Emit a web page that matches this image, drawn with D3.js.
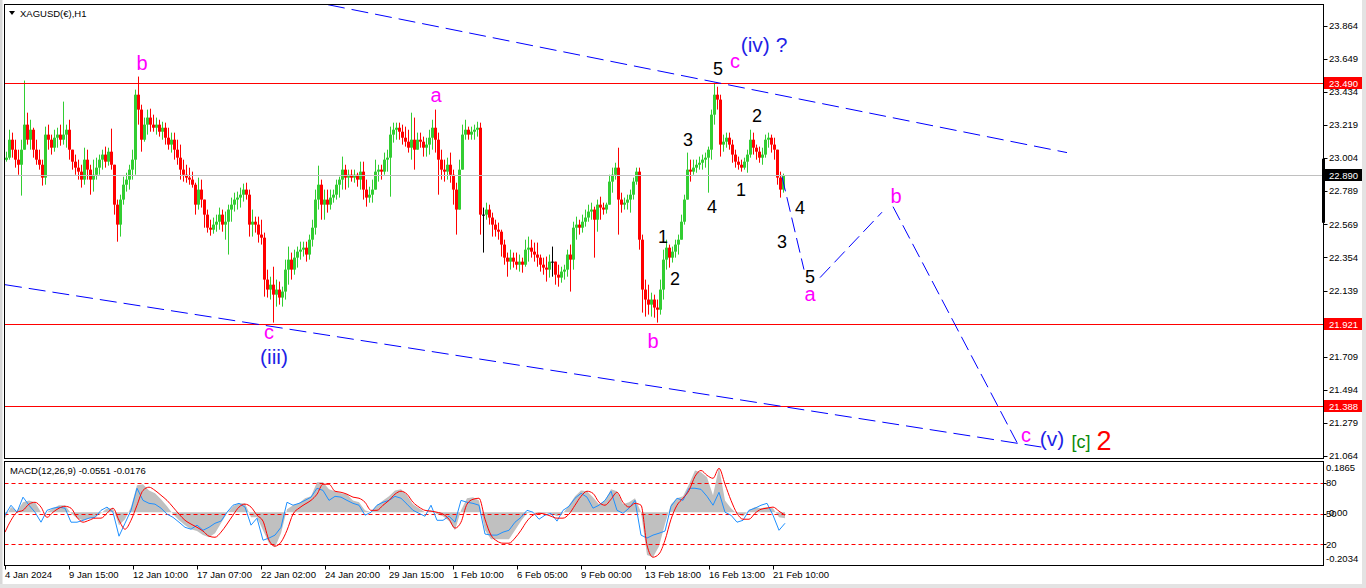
<!DOCTYPE html>
<html><head><meta charset="utf-8">
<script src="https://cdn.jsdelivr.net/npm/d3@7/dist/d3.min.js"></script>
<style>
body{margin:0;background:#fff}
svg{display:block}
text{font-family:"Liberation Sans",Arial,sans-serif}
</style>
</head><body>
<svg id="c" width="1366" height="588"></svg>
<script>
// ---------------- DATA ----------------
const symbolTitle = "XAGUSD(€),H1";
const hoursPerCandle = 3;           // each drawn candle aggregates 3 H1 bars
const firstOpen = 22.99;
const highs = [
23.043,23.186,23.167,23.121,23.056,23.121,23.506,23.297,23.251,23.199,
23.121,23.056,22.991,23.206,23.219,23.154,23.186,23.199,23.219,23.369,
23.219,23.251,23.056,23.024,22.991,22.958,23.069,23.056,22.958,22.991,
23.004,23.024,23.056,23.076,23.069,23.193,22.958,22.731,22.763,22.880,
22.906,22.958,23.056,23.447,23.532,23.349,23.265,23.317,23.323,23.284,
23.265,23.251,23.238,23.232,23.199,23.167,23.167,23.121,23.089,22.991,
22.958,22.939,22.913,22.841,22.874,22.861,22.731,22.666,22.600,22.614,
22.633,22.679,22.666,22.653,22.698,22.744,22.776,22.783,22.809,22.835,
22.841,22.796,22.666,22.620,22.620,22.600,22.516,22.275,22.229,22.294,
22.210,22.197,22.164,22.340,22.425,22.386,22.405,22.425,22.457,22.457,
22.457,22.503,22.600,22.796,22.952,22.861,22.796,22.796,22.796,22.796,
22.861,22.880,23.011,22.958,22.926,22.926,22.926,22.906,22.978,22.978,
22.861,22.815,22.861,22.991,22.958,22.958,23.037,23.056,23.206,23.232,
23.232,23.232,23.219,23.206,23.186,23.297,23.265,23.167,23.167,23.141,
23.134,23.186,23.251,23.317,23.167,23.056,22.991,23.004,23.037,22.926,
22.841,22.991,23.219,23.251,23.206,23.206,23.219,23.238,23.232,22.679,
22.711,22.698,22.646,22.600,22.581,22.535,22.470,22.386,22.405,22.386,
22.386,22.373,22.353,22.470,22.490,22.470,22.451,22.451,22.373,22.353,
22.360,22.373,22.425,22.327,22.307,22.294,22.307,22.405,22.438,22.587,
22.620,22.600,22.633,22.666,22.698,22.711,22.685,22.731,22.750,22.711,
22.711,22.893,22.939,22.971,23.069,22.776,22.744,22.763,22.796,22.874,
22.939,22.939,22.503,22.210,22.177,22.125,22.112,22.080,22.210,22.405,
22.470,22.438,22.425,22.470,22.503,22.633,22.763,23.037,22.991,22.991,
22.991,23.011,23.024,23.037,23.076,23.317,23.492,23.466,23.414,23.154,
23.167,23.167,23.121,23.056,23.011,22.991,23.004,23.056,23.186,23.167,
23.089,23.076,23.069,23.154,23.167,23.154,23.134,23.056,22.913,22.900];
const lows = [
22.978,22.991,23.004,22.939,22.893,22.757,23.056,23.089,23.056,23.004,
22.958,22.926,22.822,22.828,23.056,23.024,23.043,23.069,23.082,23.089,
23.069,22.991,22.926,22.893,22.861,22.809,22.828,22.861,22.763,22.783,
22.861,22.893,22.926,22.939,22.952,22.926,22.633,22.457,22.490,22.698,
22.783,22.796,22.861,22.893,23.219,23.043,23.108,23.154,23.173,23.173,
23.154,23.141,23.121,23.089,23.056,23.037,22.991,22.958,22.861,22.848,
22.841,22.828,22.809,22.633,22.666,22.679,22.548,22.516,22.496,22.509,
22.522,22.535,22.522,22.470,22.373,22.587,22.653,22.666,22.679,22.718,
22.731,22.490,22.490,22.516,22.451,22.438,22.099,22.093,22.080,21.930,
22.034,22.047,22.034,22.080,22.177,22.210,22.242,22.288,22.340,22.360,
22.327,22.340,22.425,22.503,22.666,22.600,22.600,22.646,22.666,22.711,
22.731,22.744,22.796,22.796,22.809,22.848,22.841,22.815,22.796,22.731,
22.685,22.711,22.711,22.796,22.848,22.861,22.893,22.913,22.750,23.102,
23.121,23.121,23.089,23.076,23.037,22.991,22.926,23.056,23.069,23.011,
23.011,23.024,23.056,23.037,22.763,22.861,22.848,22.861,22.841,22.698,
22.503,22.685,22.958,23.121,23.121,23.121,23.121,23.141,22.503,22.386,
22.600,22.568,22.490,22.490,22.470,22.360,22.307,22.229,22.275,22.288,
22.275,22.262,22.255,22.294,22.327,22.353,22.327,22.294,22.262,22.242,
22.197,22.223,22.229,22.177,22.164,22.190,22.210,22.229,22.132,22.275,
22.470,22.503,22.516,22.555,22.587,22.600,22.353,22.522,22.600,22.633,
22.640,22.698,22.776,22.861,22.503,22.646,22.666,22.666,22.646,22.731,
22.828,22.405,21.995,21.969,21.982,21.969,21.962,21.930,21.982,22.080,
22.275,22.288,22.321,22.353,22.373,22.470,22.568,22.731,22.848,22.893,
22.906,22.926,22.926,22.939,22.776,22.991,23.219,23.317,23.011,23.043,
23.069,23.056,22.971,22.939,22.926,22.913,22.926,22.906,23.004,23.024,
22.991,22.971,22.958,23.004,23.069,23.037,22.991,22.828,22.744,22.776];
const closes = [
23.004,23.121,23.056,22.991,22.958,23.056,23.219,23.121,23.186,23.056,
22.991,22.958,22.874,23.154,23.121,23.069,23.134,23.154,23.121,23.154,
23.186,23.056,22.978,22.939,22.913,22.861,22.991,22.926,22.861,22.893,
22.939,22.991,23.024,22.978,23.043,22.958,22.698,22.568,22.731,22.828,
22.861,22.926,22.991,23.414,23.317,23.121,23.219,23.265,23.219,23.199,
23.219,23.173,23.199,23.134,23.089,23.121,23.056,23.004,22.926,22.893,
22.874,22.861,22.828,22.698,22.796,22.731,22.633,22.548,22.535,22.568,
22.587,22.633,22.568,22.587,22.666,22.698,22.731,22.744,22.763,22.796,
22.763,22.568,22.587,22.568,22.503,22.483,22.210,22.145,22.177,22.112,
22.145,22.093,22.132,22.275,22.340,22.275,22.353,22.392,22.405,22.418,
22.373,22.470,22.548,22.731,22.828,22.698,22.731,22.698,22.744,22.763,
22.828,22.861,22.926,22.874,22.893,22.874,22.893,22.861,22.913,22.796,
22.744,22.763,22.796,22.913,22.926,22.913,22.991,23.004,23.154,23.186,
23.199,23.173,23.134,23.108,23.069,23.121,23.056,23.121,23.108,23.069,
23.089,23.134,23.199,23.121,22.991,22.926,22.913,22.958,22.893,22.796,
22.666,22.926,23.154,23.186,23.154,23.173,23.186,23.199,22.633,22.633,
22.666,22.614,22.568,22.535,22.522,22.438,22.353,22.327,22.353,22.327,
22.307,22.327,22.307,22.405,22.418,22.392,22.373,22.353,22.307,22.288,
22.275,22.327,22.327,22.242,22.223,22.262,22.275,22.373,22.340,22.548,
22.568,22.548,22.587,22.614,22.653,22.666,22.600,22.698,22.679,22.666,
22.698,22.848,22.893,22.939,22.731,22.698,22.711,22.731,22.763,22.848,
22.913,22.470,22.145,22.080,22.047,22.080,22.028,22.014,22.145,22.340,
22.418,22.353,22.392,22.438,22.470,22.587,22.731,22.926,22.913,22.939,
22.958,22.971,22.991,23.004,23.056,23.284,23.414,23.382,23.089,23.108,
23.134,23.089,23.024,22.978,22.958,22.939,22.978,23.024,23.121,23.069,
23.043,23.004,23.024,23.121,23.134,23.089,23.056,22.874,22.796,22.890];

const priceTicks = [23.864,23.649,23.434,23.219,23.004,22.789,22.569,22.354,22.139,21.924,21.709,21.494,21.279,21.064];
const timeLabels = ["4 Jan 2024","9 Jan 15:00","12 Jan 10:00","17 Jan 07:00","22 Jan 02:00","24 Jan 20:00","29 Jan 15:00","1 Feb 10:00","6 Feb 05:00","9 Feb 00:00","13 Feb 18:00","16 Feb 13:00","21 Feb 10:00"];
const timeLabelHours = [0,64,128,192,256,320,384,448,512,576,640,704,768];

const redLevels = [23.490, 21.921, 21.388];
const currentPrice = 22.890;
const spreadBar = [22.997, 22.580];

// trend channel (hour, price)
const channelUpper = [[323, 24.000], [1062, 23.037]];
const channelLower = [[0, 22.177], [1040, 21.116]];
// projected path (hour, price)
const projection = [
  [[777, 22.880], [799, 22.275]],
  [[815, 22.223], [877, 22.649]],
  [[888, 22.685], [1012, 21.149]]
];

// Elliott wave labels
const waveText   = ["b","a","5","c","(iv) ?","3","2","1","4","4","3","1","2","5","a","b","b","c","(iii)","c","(v)","[c]","2"];
const waveHour   = [137,431,713,730,759,683,752,736,707,795,777,658,670,805,805,891,648,264,269,1021,1047,1076,1099];
const wavePrice  = [23.577,23.369,23.545,23.585,23.690,23.082,23.238,22.757,22.646,22.640,22.418,22.451,22.178,22.185,22.070,22.711,21.767,21.826,21.663,21.155,21.129,21.116,21.103];
const waveDegree = ["minuette","minuette","sub","minuette","minute","sub","sub","sub","sub","sub","sub","sub","sub","sub","minuette","minuette","minuette","minuette","minute","minuette","minute","minor","intermediate"];

// MACD panel (one value every 6 hours)
const macdTitle = "MACD(12,26,9) -0.0551 -0.0176";
const macdStepHours = 6;
const macdHist = [
-0.022,0.019,0.004,0.037,0.044,0.037,0.000,0.000,0.015,0.026,
0.026,-0.004,-0.022,-0.030,-0.022,-0.019,-0.004,0.015,0.015,-0.048,
-0.026,0.019,0.100,0.104,0.081,0.070,0.048,0.022,-0.007,-0.030,
-0.048,-0.063,-0.070,-0.085,-0.093,-0.078,-0.041,-0.004,0.022,0.033,
0.033,-0.019,-0.019,-0.067,-0.115,-0.130,-0.078,0.011,0.026,0.033,
0.052,0.059,0.111,0.111,0.085,0.078,0.070,0.067,0.044,0.037,
0.007,0.000,0.026,0.044,0.059,0.081,0.085,0.063,0.030,0.015,
0.000,0.007,-0.007,-0.015,-0.033,-0.067,0.007,0.052,0.056,0.044,
-0.067,-0.100,-0.100,-0.100,-0.100,-0.067,-0.033,-0.004,0.000,-0.004,
-0.004,-0.004,-0.015,-0.004,0.026,0.059,0.081,0.078,0.056,0.030,
0.044,0.085,0.078,0.030,0.037,0.052,0.000,-0.159,-0.167,-0.126,
-0.044,0.030,0.052,0.059,0.104,0.155,0.148,0.130,0.063,0.167,
0.044,0.015,-0.007,-0.015,0.007,0.019,0.015,0.019,0.015,-0.019,
-0.022];
const macdFast = [
-0.011,0.026,0.000,0.056,0.026,0.000,-0.037,0.007,0.015,0.019,
0.015,-0.037,-0.037,-0.030,-0.022,-0.019,0.007,0.019,0.000,-0.089,
-0.041,0.007,0.089,0.044,0.033,0.030,0.015,-0.007,-0.019,-0.037,
-0.056,-0.063,-0.048,-0.067,-0.056,-0.041,-0.033,0.000,0.026,0.033,
0.019,-0.048,-0.022,-0.104,-0.096,-0.085,-0.056,0.037,0.026,0.033,
0.044,0.056,0.089,0.081,0.044,0.059,0.056,0.044,0.033,0.026,
-0.011,0.000,0.026,0.037,0.044,0.059,0.052,0.030,0.007,-0.004,
-0.015,0.026,-0.030,-0.030,-0.015,-0.037,0.044,0.037,0.033,0.026,
-0.081,-0.085,-0.085,-0.074,-0.067,-0.037,-0.019,0.007,0.000,-0.026,
-0.011,-0.004,-0.033,0.007,0.022,0.052,0.070,0.056,0.015,0.026,
0.044,0.078,0.007,-0.004,0.015,0.044,-0.085,-0.096,-0.085,-0.078,
-0.070,0.022,0.052,0.044,0.089,0.089,0.085,0.059,0.026,0.074,
0.000,-0.011,-0.037,-0.030,0.007,0.015,0.026,0.033,-0.011,-0.067,
-0.041];
const macdSignal = [
-0.074,-0.030,0.000,0.007,0.030,0.037,0.019,-0.019,0.000,0.015,
0.022,0.015,-0.019,-0.037,-0.030,-0.022,-0.022,-0.004,0.015,-0.030,
-0.063,-0.030,0.026,0.081,0.093,0.081,0.063,0.044,0.019,-0.007,
-0.030,-0.044,-0.056,-0.070,-0.089,-0.093,-0.074,-0.044,-0.011,0.019,
0.030,0.019,-0.011,-0.033,-0.104,-0.126,-0.111,-0.067,-0.007,0.015,
0.030,0.044,0.067,0.104,0.104,0.078,0.074,0.067,0.056,0.052,
0.037,0.007,0.007,0.026,0.044,0.067,0.078,0.067,0.037,0.019,
0.007,0.004,0.000,-0.007,-0.026,-0.059,-0.037,0.030,0.048,0.052,
-0.026,-0.085,-0.107,-0.115,-0.115,-0.096,-0.067,-0.033,-0.011,-0.004,
-0.007,-0.015,-0.022,-0.022,-0.007,0.026,0.059,0.078,0.070,0.037,
0.026,0.048,0.074,0.037,0.019,0.033,0.026,-0.122,-0.167,-0.155,
-0.104,-0.026,0.026,0.052,0.081,0.133,0.155,0.137,0.126,0.163,
0.104,0.044,-0.004,-0.026,-0.026,-0.004,0.011,0.015,0.019,0.004,
-0.011];
const macdLevels = [80, 50, 20];
const macdScaleLabels = ["0.1865","80","50","0.00","20","-0.2034"];
const macdScaleValues = [0.1865, null, null, 0, null, -0.2034];
const macdScaleLevelValues = [null, 80, 50, null, 20, null];

// ---------------- LAYOUT ----------------
const svg = d3.select("#c");
const L = 4.5, R = 1323.5, T = 4.5, B = 458.5, MT = 461.5, MB = 565.5;
const UP = "#32cd32", DOWN = "#ff0000";
const degreeStyle = {
  sub:{fill:"#000", size:18},
  minuette:{fill:"#ff00ff", size:20},
  minute:{fill:"#1f1fe6", size:21},
  minor:{fill:"#0a8a0a", size:18},
  intermediate:{fill:"#ff0000", size:27}
};

const x = d3.scaleLinear().domain([0, 1318]).range([5, 1323]);
const y = d3.scaleLinear().domain([21.064, 23.864]).range([455.6, 25.6]);
const m = d3.scaleLinear().domain([-0.2034, 0.1865]).range([567, 462]);
const lv = d3.scaleLinear().domain([0, 100]).range([565, 462]);

// background & window edges
svg.append("rect").attr("width",1366).attr("height",588).attr("fill","#fff");
svg.append("rect").attr("x",0).attr("y",0).attr("width",2.5).attr("height",588).attr("fill","#d8d8d8");
svg.append("rect").attr("x",1362).attr("y",0).attr("width",4).attr("height",588).attr("fill","#e3e3e3");
svg.append("rect").attr("x",0).attr("y",584).attr("width",1366).attr("height",4).attr("fill","#e3e3e3");

const defs = svg.append("defs");
defs.append("clipPath").attr("id","mainClip").append("rect").attr("x",L+0.5).attr("y",T+0.5).attr("width",R-L-1).attr("height",B-T-1);
defs.append("clipPath").attr("id","macdClip").append("rect").attr("x",L+0.5).attr("y",MT+0.5).attr("width",R-L-1).attr("height",MB-MT-1);

const main = svg.append("g").attr("clip-path","url(#mainClip)");

// candles
const candles = closes.map((c,i)=>{
  const o = i===0 ? firstOpen : closes[i-1];
  return {h:i*hoursPerCandle, o, c, hi:Math.max(highs[i],o,c), lo:Math.min(lows[i],o,c)};
});
const cg = main.append("g");
cg.selectAll("line.w").data(candles).join("line").attr("class","w")
  .attr("x1",d=>x(d.h)+1.5).attr("x2",d=>x(d.h)+1.5)
  .attr("y1",d=>y(d.hi)).attr("y2",d=>y(d.lo))
  .attr("stroke",d=>d.c>d.o?UP:(d.c<d.o?DOWN:"#000")).attr("stroke-width",1);
cg.selectAll("rect.b").data(candles).join("rect").attr("class","b")
  .attr("x",d=>x(d.h)).attr("width",3)
  .attr("y",d=>y(Math.max(d.o,d.c)))
  .attr("height",d=>Math.max(1, Math.abs(y(d.o)-y(d.c))))
  .attr("fill",d=>d.c>d.o?UP:(d.c<d.o?DOWN:"#000"));

// horizontal levels
main.append("line").attr("x1",L).attr("x2",R).attr("y1",Math.round(y(currentPrice))+0.5).attr("y2",Math.round(y(currentPrice))+0.5)
  .attr("stroke","#c0c0c0").attr("stroke-width",1);
main.selectAll("line.lvl").data(redLevels).join("line").attr("class","lvl")
  .attr("x1",L).attr("x2",R).attr("y1",d=>Math.round(y(d))+0.5).attr("y2",d=>Math.round(y(d))+0.5)
  .attr("stroke","#ff0000").attr("stroke-width",1);

// channel + projection
const ln = d3.line().x(d=>x(d[0])).y(d=>y(d[1]));
[channelUpper, channelLower].forEach(seg=>{
  main.append("path").attr("d",ln(seg)).attr("fill","none").attr("stroke","#0000ff")
    .attr("stroke-width",1).attr("stroke-dasharray","17,7");
});
projection.forEach(seg=>{
  main.append("path").attr("d",ln(seg)).attr("fill","none").attr("stroke","#0000ff")
    .attr("stroke-width",1).attr("stroke-dasharray","15,6");
});

// wave labels
main.selectAll("text.wave").data(waveText).join("text").attr("class","wave")
  .attr("x",(d,i)=>x(waveHour[i])).attr("y",(d,i)=>y(wavePrice[i]))
  .attr("text-anchor","middle")
  .attr("font-size",(d,i)=>degreeStyle[waveDegree[i]].size)
  .attr("fill",(d,i)=>degreeStyle[waveDegree[i]].fill)
  .text(d=>d);

// title
svg.append("path").attr("d","M9,11 L15,11 L12,15 Z").attr("fill","#000");
svg.append("text").attr("x",20).attr("y",17).attr("font-size",9.5).attr("fill","#000").text(symbolTitle);

// ---------------- MACD ----------------
const mg = svg.append("g").attr("clip-path","url(#macdClip)");
const mh = (d,i)=>x(i*macdStepHours);
mg.append("path").attr("d", d3.area().x(mh).y0(m(0)).y1(d=>m(d))(macdHist)).attr("fill","#c0c0c0");
mg.selectAll("line.ml").data(macdLevels).join("line").attr("class","ml")
  .attr("x1",L).attr("x2",R).attr("y1",d=>Math.round(lv(d))+0.5).attr("y2",d=>Math.round(lv(d))+0.5)
  .attr("stroke","#ff0000").attr("stroke-dasharray","4,3");
mg.append("path").attr("d", d3.line().x(mh).y(d=>m(d))(macdFast)).attr("fill","none").attr("stroke","#1e90ff").attr("stroke-width",1);
mg.append("path").attr("d", d3.line().x(mh).y(d=>m(d)).curve(d3.curveMonotoneX)(macdSignal)).attr("fill","none").attr("stroke","#ff0000").attr("stroke-width",1);
svg.append("text").attr("x",10).attr("y",474).attr("font-size",9.5).attr("fill","#000").text(macdTitle);

// frames
svg.append("rect").attr("x",L).attr("y",T).attr("width",R-L).attr("height",B-T).attr("fill","none").attr("stroke","#000");
svg.append("rect").attr("x",L).attr("y",MT).attr("width",R-L).attr("height",MB-MT).attr("fill","none").attr("stroke","#000");

// right price axis
const ax = svg.append("g");
ax.selectAll("line.pt").data(priceTicks).join("line").attr("class","pt")
  .attr("x1",R).attr("x2",R+4).attr("y1",d=>Math.round(y(d))+0.5).attr("y2",d=>Math.round(y(d))+0.5).attr("stroke","#000");
ax.selectAll("text.pt").data(priceTicks).join("text").attr("class","pt")
  .attr("x",1329).attr("y",d=>y(d)+3.5).attr("font-size",9.5).attr("fill","#000")
  .text(d=>d.toFixed(3));
// spread bar
ax.append("rect").attr("x",R-1.5).attr("y",y(spreadBar[0])).attr("width",3).attr("height",y(spreadBar[1])-y(spreadBar[0])).attr("fill","#000");
// level boxes
const boxes = redLevels.map(v=>({v, fill:"#ff0000"})).concat([{v:currentPrice, fill:"#000"}]);
boxes.forEach(b=>{
  const yy = Math.round(y(b.v));
  ax.append("rect").attr("x",R+0.5).attr("y",yy-6).attr("width",38).attr("height",12).attr("fill",b.fill);
  ax.append("text").attr("x",1329).attr("y",yy+3.5).attr("font-size",9.5).attr("fill","#fff").text(b.v.toFixed(3));
});
// MACD scale
macdScaleLabels.forEach((t,i)=>{
  const yy = macdScaleValues[i]!==null ? m(macdScaleValues[i]) : lv(macdScaleLevelValues[i]);
  let ty = yy + 3.5;
  if (t==="0.1865") ty = 471;
  if (t==="-0.2034") ty = 561.5;
  ax.append("text").attr("x", t==="0.00"?1329:1326).attr("y",ty).attr("font-size",9.5).attr("fill","#000").text(t);
});
macdLevels.forEach(v=>{
  ax.append("line").attr("x1",R).attr("x2",R+3).attr("y1",Math.round(lv(v))+0.5).attr("y2",Math.round(lv(v))+0.5).attr("stroke","#000");
});

// time axis
const tx = svg.append("g");
tx.selectAll("line").data(timeLabelHours).join("line")
  .attr("x1",d=>Math.round(x(d))+0.5).attr("x2",d=>Math.round(x(d))+0.5).attr("y1",MB).attr("y2",MB+4).attr("stroke","#000");
tx.selectAll("text").data(timeLabels).join("text")
  .attr("x",(d,i)=>x(timeLabelHours[i])).attr("y",578).attr("font-size",9.5).attr("fill","#000").text(d=>d);
</script>
</body></html>
